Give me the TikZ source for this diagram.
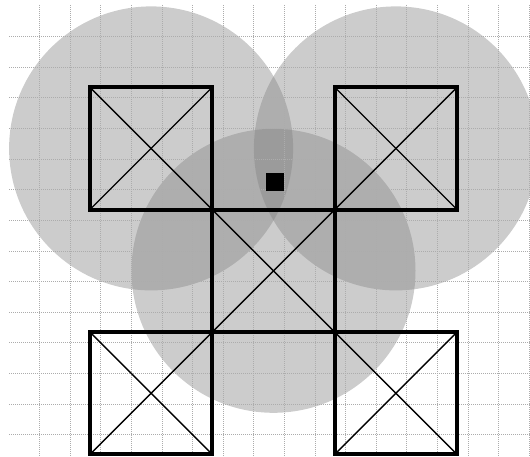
\documentclass[tikz,border=0pt]{standalone}
\usepackage{tikz}
\usetikzlibrary{positioning,backgrounds}

\begin{document}
\begin{tikzpicture}[
    x=1pt, y=-1pt,
    cellline/.style={gray!65, line width=0.8pt, dash pattern=on 1pt off 1pt},
    zone/.style={fill=gray, fill opacity=0.4},
    room/.style={draw=black, line width=4pt, minimum size=122.4pt,
                 inner sep=0pt, outer sep=0pt},
    cross/.style={black, line width=1.4pt},
    sensor/.style={fill=black, minimum size=18pt, inner sep=0pt},
]
\useasboundingbox (0,0) rectangle (530,457);
\clip (0,0) rectangle (530,457);

% =====================================================================
% Rooms: centre one, four around its corners
% =====================================================================
\node[room] (mid) at (273.5,270.8) {};
\node[room, above left=0pt of mid] (tl) {};
\node[room, above right=0pt of mid] (tr) {};
\node[room, below left=0pt of mid] (bl) {};
\node[room, below right=0pt of mid] (br) {};

% Crossed diagonals in every room
\foreach \r in {mid,tl,tr,bl,br} {
    \draw[cross] (\r.north west) -- (\r.south east);
    \draw[cross] (\r.south west) -- (\r.north east);
}

% Small black marker
\node[sensor] (sensor) at (274.5,181.7) {};

% =====================================================================
% Coverage discs and grid, behind the rooms
% =====================================================================
\begin{scope}[on background layer]
\foreach \r in {tl,tr,mid}
    \fill[zone] (\r.center) circle (142);

% Dotted grid
\foreach \k in {0,...,13}
    \draw[cellline] (9,{36.7+30.6*\k}) -- (530,{36.7+30.6*\k});
\foreach \k in {0,...,16}
    \draw[cellline] ({39.6+30.6*\k},5) -- ({39.6+30.6*\k},457);
\end{scope}

\end{tikzpicture}
\end{document}
